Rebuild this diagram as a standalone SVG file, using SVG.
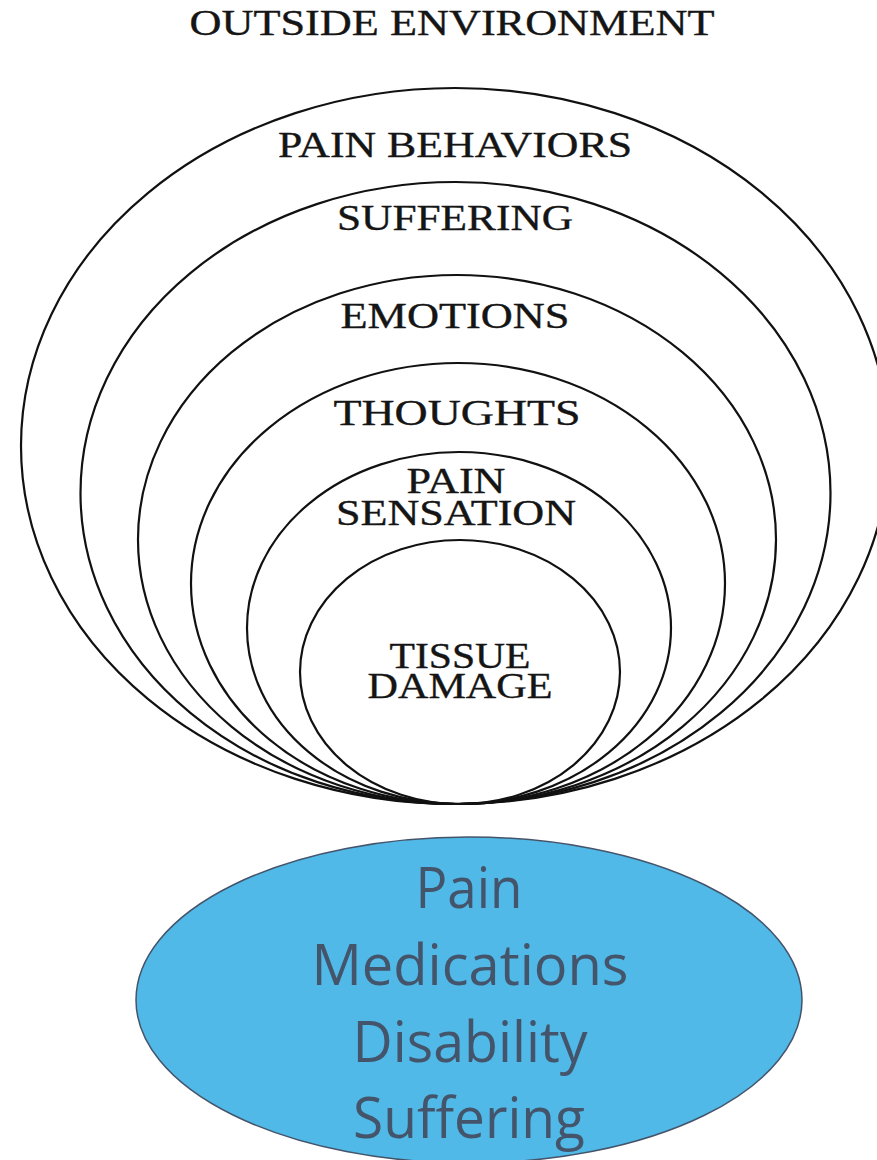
<svg xmlns="http://www.w3.org/2000/svg" width="877" height="1160" viewBox="0 0 877 1160">
  <style>
    .ring { fill: none; stroke: #111; stroke-width: 2.2; }
    .lbl { font-family: "Liberation Serif", "Times New Roman", serif; font-size: 35px; fill: #151515; stroke: #151515; stroke-width: 0.35; text-anchor: middle; }
    .blue { fill: #50B9E8; stroke: #44546A; stroke-width: 1.5; }
    .btxt { font-family: "Open Sans", "Noto Sans", "Liberation Sans", sans-serif; font-size: 57px; fill: #44546A; text-anchor: middle; }
  </style>
  <rect x="0" y="0" width="877" height="1160" fill="#ffffff"/>
  <g id="outside-environment">
    <text class="lbl" x="452" y="35" font-size="37" textLength="525" lengthAdjust="spacingAndGlyphs">OUTSIDE ENVIRONMENT</text>
  </g>
  <g id="pain-behaviors">
    <ellipse class="ring" cx="455" cy="446" rx="434" ry="358"/>
    <text class="lbl" x="455" y="157" textLength="354" lengthAdjust="spacingAndGlyphs">PAIN BEHAVIORS</text>
  </g>
  <g id="suffering">
    <ellipse class="ring" cx="455.5" cy="493" rx="375" ry="311"/>
    <text class="lbl" x="455" y="230" textLength="236" lengthAdjust="spacingAndGlyphs">SUFFERING</text>
  </g>
  <g id="emotions">
    <ellipse class="ring" cx="457" cy="539.5" rx="319" ry="264.5"/>
    <text class="lbl" x="455" y="328" textLength="229" lengthAdjust="spacingAndGlyphs">EMOTIONS</text>
  </g>
  <g id="thoughts">
    <ellipse class="ring" cx="458" cy="583.5" rx="267" ry="220.5"/>
    <text class="lbl" x="457" y="425" textLength="247" lengthAdjust="spacingAndGlyphs">THOUGHTS</text>
  </g>
  <g id="pain-sensation">
    <ellipse class="ring" cx="459" cy="628" rx="212" ry="176"/>
    <text class="lbl" x="456" y="493" font-size="33" textLength="99" lengthAdjust="spacingAndGlyphs">PAIN</text>
    <text class="lbl" x="456" y="525" font-size="33" textLength="240" lengthAdjust="spacingAndGlyphs">SENSATION</text>
  </g>
  <g id="tissue-damage">
    <ellipse class="ring" cx="460" cy="672" rx="160" ry="132"/>
    <text class="lbl" x="460" y="668" font-size="33" textLength="141" lengthAdjust="spacingAndGlyphs">TISSUE</text>
    <text class="lbl" x="460" y="698" font-size="33" textLength="185" lengthAdjust="spacingAndGlyphs">DAMAGE</text>
  </g>
  <g id="outcomes">
    <ellipse class="blue" cx="469" cy="1000" rx="333" ry="163"/>
    <text class="btxt" x="469" y="908" textLength="107" lengthAdjust="spacingAndGlyphs">Pain</text>
    <text class="btxt" x="470" y="985" textLength="317" lengthAdjust="spacingAndGlyphs">Medications</text>
    <text class="btxt" x="470" y="1062" textLength="235" lengthAdjust="spacingAndGlyphs">Disability</text>
    <text class="btxt" x="469" y="1138" textLength="232" lengthAdjust="spacingAndGlyphs">Suffering</text>
  </g>
</svg>
